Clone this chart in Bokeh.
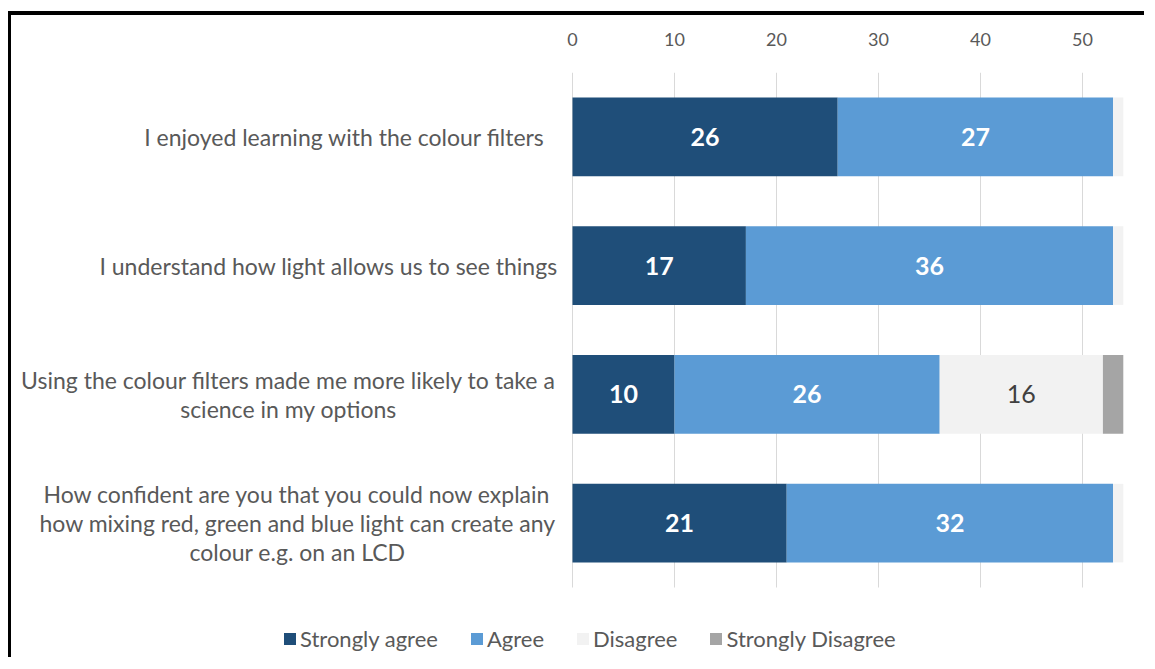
from bokeh.plotting import figure
from bokeh.models import (Range1d, ColumnDataSource, Legend, LegendItem, FixedTicker)
from bokeh.core.properties import value
from bokeh.embed import file_html
from bokeh.resources import INLINE
import numpy as np

questions = [
    "I enjoyed learning with the colour filters",
    "I understand how light allows us to see things",
    "Using the colour filters made me more likely to take a\nscience in my options",
    "How confident are you that you could now explain\nhow mixing red, green and blue light can create any\ncolour e.g. on an LCD",
]
series = ["Strongly agree", "Agree", "Disagree", "Strongly Disagree"]
strongly_agree = [26, 17, 10, 21]
agree = [27, 36, 26, 32]
disagree = [1, 1, 16, 1]
strongly_disagree = [0, 0, 2, 0]
x_ticks = [0, 10, 20, 30, 40, 50]
colors = ["#1F4E79", "#5B9BD5", "#F2F2F2", "#A5A5A5"]
label_colors = ["white", "white", "#404040", "#404040"]
label_styles = ["bold", "bold", "normal", "normal"]

FONT = "Lato"
TXT = "#595959"

W, H = 1136, 646
FRAME_TOP = 57
PX_LEFT = 561          # canvas px of value 0
PX_PER_UNIT = 10.2
ROW_PX = 128.75
n = len(questions)
x_start = -PX_LEFT / PX_PER_UNIT
x_end = (W - PX_LEFT) / PX_PER_UNIT
y_start = -(H - FRAME_TOP - n * ROW_PX) / ROW_PX

p = figure(width=W, height=H, output_backend="svg", toolbar_location=None,
           x_range=Range1d(x_start, x_end), y_range=Range1d(y_start, n),
           x_axis_location="above",
           min_border_left=0, min_border_right=0,
           min_border_top=FRAME_TOP, min_border_bottom=0)
p.styles = {"border-top": "4px solid black", "border-left": "3px solid black",
            "margin-top": "11px", "margin-left": "8px"}
p.outline_line_color = None
p.yaxis.visible = False
p.ygrid.visible = False

ticker = FixedTicker(ticks=x_ticks)
p.xaxis.ticker = ticker
p.xaxis.axis_line_color = None
p.xaxis.major_tick_line_color = None
p.xaxis.minor_tick_line_color = None
p.xaxis.major_label_standoff = 21
p.xaxis.major_label_text_font = FONT
p.xaxis.major_label_text_font_size = "18px"
p.xaxis.major_label_text_color = TXT

p.xgrid.visible = False
# vertical gridlines limited to the category band
p.segment(x0=x_ticks, x1=x_ticks, y0=[0] * len(x_ticks), y1=[n] * len(x_ticks),
          line_color="#D9D9D9", line_width=1)

row_y = list(n - 0.5 - np.arange(n))
data = {"y": row_y, series[0]: strongly_agree, series[1]: agree,
        series[2]: disagree, series[3]: strongly_disagree}
src = ColumnDataSource(data)
renderers = p.hbar_stack(series, y="y", height=0.61, color=colors, source=src,
                         line_color=None)

# data labels
vals = np.array([strongly_agree, agree, disagree, strongly_disagree], dtype=float)
cum = np.cumsum(vals, axis=0)
mids = cum - vals / 2
for i in range(len(series)):
    xs, ys, ts = [], [], []
    for j in range(n):
        if vals[i, j] > 2:
            xs.append(mids[i, j]); ys.append(row_y[j]); ts.append(str(int(vals[i, j])))
    if xs:
        p.text(x=xs, y=ys, text=ts, text_align="center", text_baseline="middle",
               text_font=value(FONT), text_font_size="25px",
               text_font_style=label_styles[i], text_color=label_colors[i])

# category labels (centered multi-line, left of the bars)
centers_px = np.array([333, 317, 277, 286])
cat_x = list((centers_px - PX_LEFT) / PX_PER_UNIT)
p.text(x=cat_x, y=row_y, text=questions, text_align="center", text_baseline="middle",
       text_font=value(FONT), text_font_size="23px", text_color=TXT,
       text_line_height=1.03)

legend = Legend(items=[LegendItem(label=s, renderers=[r]) for s, r in zip(series, renderers)],
                orientation="horizontal", location=(271, 9),
                border_line_color=None, background_fill_alpha=0,
                padding=0, margin=0, spacing=31, label_standoff=3,
                glyph_width=15, glyph_height=15, label_height=22,
                label_text_font=FONT, label_text_font_size="22px",
                label_text_color=TXT)
p.add_layout(legend, "center")

open("out.html", "w").write(file_html(p, INLINE))
